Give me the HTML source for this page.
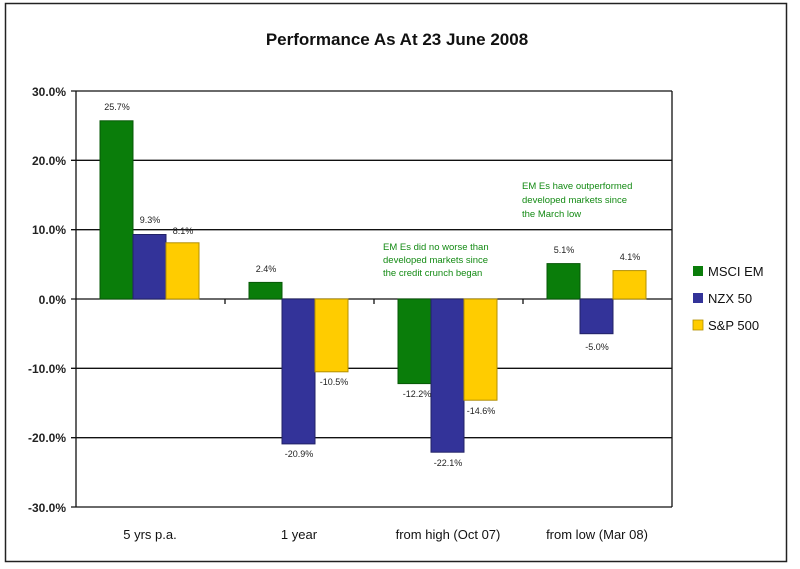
<!DOCTYPE html>
<html><head><style>body{margin:0;background:#fff}svg{display:block}text{font-family:"Liberation Sans",Arial,sans-serif}</style></head><body>
<svg width="800" height="569" viewBox="0 0 800 569" xmlns="http://www.w3.org/2000/svg">
<rect x="0" y="0" width="800" height="569" fill="#fff"/>
<rect x="5.5" y="3.5" width="781" height="558" fill="none" stroke="#222" stroke-width="1.5"/>
<text x="397" y="45" font-size="17" font-weight="bold" text-anchor="middle" fill="#111">Performance As At 23 June 2008</text>
<g stroke="#111" stroke-width="1.3">
<line x1="71" y1="91" x2="672" y2="91"/><line x1="71" y1="160.3" x2="672" y2="160.3"/><line x1="71" y1="229.7" x2="672" y2="229.7"/><line x1="71" y1="299" x2="672" y2="299"/><line x1="71" y1="368.3" x2="672" y2="368.3"/><line x1="71" y1="437.7" x2="672" y2="437.7"/><line x1="71" y1="507" x2="672" y2="507"/>
<line x1="76" y1="91" x2="76" y2="507"/><line x1="672" y1="91" x2="672" y2="507"/>
<line x1="225" y1="299" x2="225" y2="304"/><line x1="374" y1="299" x2="374" y2="304"/><line x1="523" y1="299" x2="523" y2="304"/>
</g>
<g font-size="12" font-weight="bold" fill="#222" text-anchor="end">
<text x="66" y="96">30.0%</text><text x="66" y="165">20.0%</text><text x="66" y="234">10.0%</text><text x="66" y="304">0.0%</text><text x="66" y="373">-10.0%</text><text x="66" y="442">-20.0%</text><text x="66" y="512">-30.0%</text>
</g>
<g stroke-width="1">
<rect x="100" y="120.8" width="33" height="178.2" fill="#0a7d0a" stroke="#075807"/>
<rect x="133" y="234.5" width="33" height="64.5" fill="#333399" stroke="#222266"/>
<rect x="166" y="242.8" width="33" height="56.2" fill="#ffcc00" stroke="#b38f00"/>
<rect x="249" y="282.4" width="33" height="16.6" fill="#0a7d0a" stroke="#075807"/>
<rect x="282" y="299" width="33" height="144.9" fill="#333399" stroke="#222266"/>
<rect x="315" y="299" width="33" height="72.8" fill="#ffcc00" stroke="#b38f00"/>
<rect x="398" y="299" width="33" height="84.6" fill="#0a7d0a" stroke="#075807"/>
<rect x="431" y="299" width="33" height="153.2" fill="#333399" stroke="#222266"/>
<rect x="464" y="299" width="33" height="101.2" fill="#ffcc00" stroke="#b38f00"/>
<rect x="547" y="263.6" width="33" height="35.4" fill="#0a7d0a" stroke="#075807"/>
<rect x="580" y="299" width="33" height="34.7" fill="#333399" stroke="#222266"/>
<rect x="613" y="270.6" width="33" height="28.4" fill="#ffcc00" stroke="#b38f00"/>
</g>
<g font-size="9" fill="#222" text-anchor="middle">
<text x="117" y="110">25.7%</text><text x="150" y="223">9.3%</text><text x="183" y="234">8.1%</text>
<text x="266" y="272">2.4%</text><text x="299" y="457">-20.9%</text><text x="334" y="385">-10.5%</text>
<text x="417" y="397">-12.2%</text><text x="448" y="466">-22.1%</text><text x="481" y="414">-14.6%</text>
<text x="564" y="253">5.1%</text><text x="597" y="350">-5.0%</text><text x="630" y="260">4.1%</text>
</g>
<g font-size="9.5" fill="#138a13">
<text x="383" y="250">EM Es did no worse than</text><text x="383" y="263">developed markets since</text><text x="383" y="276">the credit crunch began</text>
<text x="522" y="189">EM Es have outperformed</text><text x="522" y="203">developed markets since</text><text x="522" y="217">the March low</text>
</g>
<g font-size="13" fill="#111" text-anchor="middle">
<text x="150" y="539">5 yrs p.a.</text><text x="299" y="539">1 year</text><text x="448" y="539">from high (Oct 07)</text><text x="597" y="539">from low (Mar 08)</text>
</g>
<rect x="693" y="266" width="10" height="10" fill="#0a7d0a"/><rect x="693" y="293" width="10" height="10" fill="#333399"/><rect x="693" y="320" width="10" height="10" fill="#ffcc00" stroke="#b38f00" stroke-width="0.8"/>
<g font-size="13" fill="#111"><text x="708" y="276">MSCI EM</text><text x="708" y="303">NZX 50</text><text x="708" y="330">S&amp;P 500</text></g>
</svg>
</body></html>
